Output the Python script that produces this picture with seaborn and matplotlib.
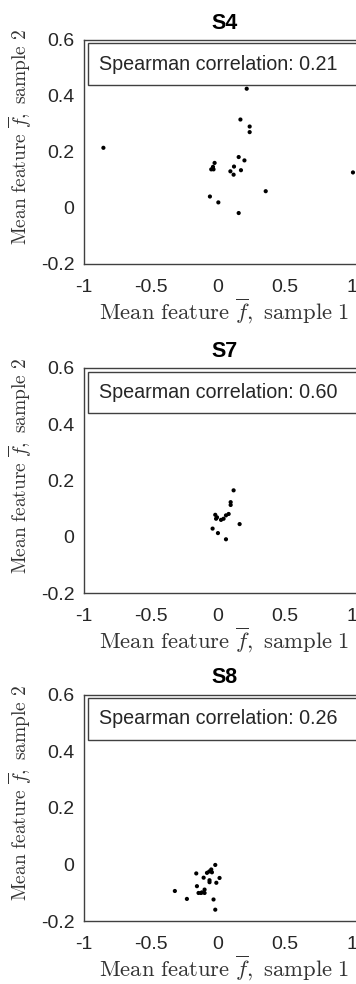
import matplotlib
matplotlib.use('Agg')
import matplotlib.pyplot as plt
import matplotlib.patches as patches
import seaborn as sns
import pandas as pd

# mean feature values per sample
s4_x = [-0.855, 0.216, 0.169, 0.238, 0.238, 0.156, 0.199, -0.024, -0.036, -0.049,
        -0.032, 0.121, 0.094, 0.118, 0.173, 0.358, -0.059, 0.004, 0.156, 1.01]
s4_y = [0.215, 0.426, 0.316, 0.291, 0.271, 0.182, 0.170, 0.161, 0.147, 0.138,
        0.138, 0.148, 0.131, 0.119, 0.135, 0.060, 0.041, 0.020, -0.018, 0.127]

s7_x = [0.118, 0.096, 0.096, 0.081, 0.061, 0.043, 0.024, -0.006, -0.019, -0.013,
        0.163, -0.039, 0.001, 0.061]
s7_y = [0.165, 0.123, 0.113, 0.081, 0.076, 0.064, 0.060, 0.069, 0.078, 0.064,
        0.045, 0.029, 0.013, -0.009]

s8_x = [-0.019, -0.049, -0.064, -0.044, -0.081, -0.161, -0.106, 0.013, -0.062, -0.062,
        -0.011, -0.156, -0.099, -0.119, -0.144, -0.126, -0.099, -0.321, -0.231, -0.032, -0.019]
s8_y = [-0.002, -0.018, -0.025, -0.028, -0.030, -0.032, -0.047, -0.048, -0.056, -0.063,
        -0.065, -0.077, -0.089, -0.099, -0.101, -0.101, -0.101, -0.094, -0.122, -0.124, -0.160]

subjects = ['S4', 'S7', 'S8']
spearman = [0.21, 0.60, 0.26]
xs = [s4_x, s7_x, s8_x]
ys = [s4_y, s7_y, s8_y]

x_ticks = [-1, -0.5, 0, 0.5, 1]
x_ticklabels = ['-1', '-0.5', '0', '0.5', '1']
y_ticks = [-0.2, 0, 0.2, 0.4, 0.6]
y_ticklabels = ['-0.2', '0', '0.2', '0.4', '0.6']

sns.set_style('white')
plt.rcParams['font.family'] = ['Liberation Sans', 'DejaVu Sans']
plt.rcParams['mathtext.fontset'] = 'cm'
plt.rcParams['axes.unicode_minus'] = False

W, H = 356, 984
fig = plt.figure(figsize=(W / 100, H / 100), dpi=100)

# axes boxes in pixels: (top, bottom)
boxes = [(40, 264), (368, 593), (694.5, 921)]
left_px = 84
right_px = 365
edge = '#404040'
txt = '#262626'

for i, name in enumerate(subjects):
    top, bot = boxes[i]
    hpx = bot - top
    wpx = right_px - left_px
    ax = fig.add_axes([left_px / W, 1 - bot / H, wpx / W, hpx / H])
    df = pd.DataFrame({'x': xs[i], 'y': ys[i]})
    sns.scatterplot(data=df, x='x', y='y', ax=ax, color='black', s=9,
                    linewidth=0, edgecolor='none', clip_on=False)
    ax.set_xlim(-1, 1.1)
    ax.set_ylim(-0.2, 0.6)
    ax.set_xticks(x_ticks)
    ax.set_xticklabels(x_ticklabels)
    ax.set_yticks(y_ticks)
    ax.set_yticklabels(y_ticklabels)
    ax.tick_params(axis='both', length=0, labelsize=14, colors=txt)
    ax.tick_params(axis='x', pad=11)
    ax.tick_params(axis='y', pad=7)
    for sp in ax.spines.values():
        sp.set_color(edge)
        sp.set_linewidth(1.0)
    ax.set_title(name, fontsize=15.5, fontweight='bold', color='black', pad=8)
    ax.set_xlabel(r'$\mathrm{Mean\ feature\ }\overline{f}\mathrm{,\ sample\ 1}$',
                  fontsize=16.3, color='#333333', va='center')
    ax.set_ylabel(r'$\mathrm{Mean\ feature\ }\overline{f}\mathrm{,\ sample\ 2}$',
                  fontsize=14, color='#333333', va='center')
    ax.xaxis.set_label_coords(0.5, -47 / hpx)
    ax.yaxis.set_label_coords(-64 / wpx, 0.5 + 15 / hpx)

    # correlation box at the top of the axes
    rect = patches.Rectangle((4 / wpx, 1 - 45 / hpx), 1.2, 41.5 / hpx,
                             transform=ax.transAxes, facecolor='white',
                             edgecolor=edge, linewidth=1.0, clip_on=False)
    ax.add_patch(rect)
    ax.text(15 / wpx, 1 - 24 / hpx, f'Spearman correlation: {spearman[i]:.2f}',
            transform=ax.transAxes, fontsize=14.2, color=txt, va='center', ha='left')

fig.savefig('out.png', dpi=100)
